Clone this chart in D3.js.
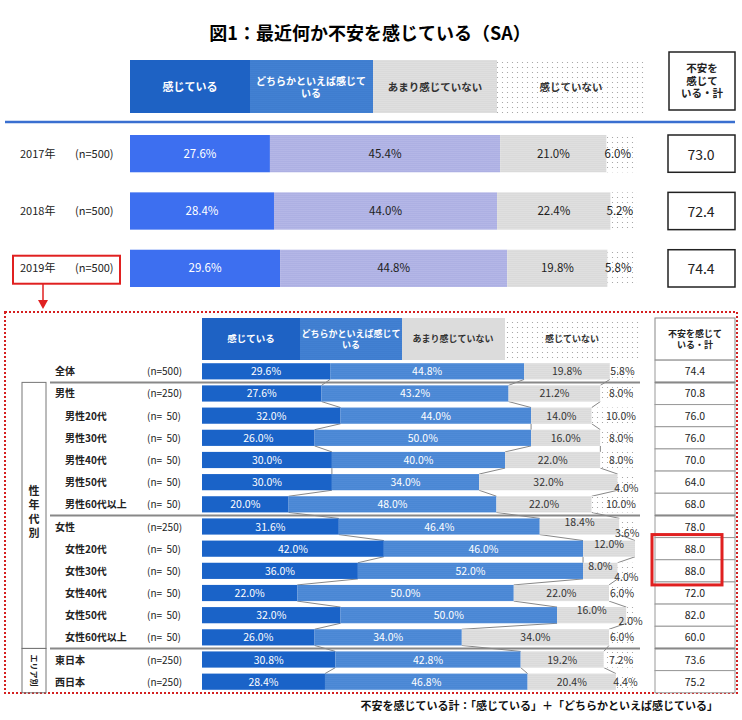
<!DOCTYPE html>
<html><head><meta charset="utf-8">
<script src="https://cdn.jsdelivr.net/npm/d3@7"></script>
<style>body{margin:0;background:#fff}text{font-family:"Noto Sans CJK JP",sans-serif}</style>
</head><body><svg id="c" width="742" height="720"></svg>
<script>
const seriesNames=["感じている","どちらかといえば感じている","あまり感じていない","感じていない"];
const totalHeader="不安を感じている・計";
const topYears=["2017年","2018年","2019年"];
const topN=["(n=500)","(n=500)","(n=500)"];
const topS1=[27.6,28.4,29.6];
const topS2=[45.4,44.0,44.8];
const topS3=[21.0,22.4,19.8];
const topS4=[6.0,5.2,5.8];
const topTotals=["73.0","72.4","74.4"];

const botLabels=["全体","男性","男性20代","男性30代","男性40代","男性50代","男性60代以上","女性","女性20代","女性30代","女性40代","女性50代","女性60代以上","東日本","西日本"];
const botN=["(n=500)","(n=250)","(n=  50)","(n=  50)","(n=  50)","(n=  50)","(n=  50)","(n=250)","(n=  50)","(n=  50)","(n=  50)","(n=  50)","(n=  50)","(n=250)","(n=250)"];
const botS1=[29.6,27.6,32.0,26.0,30.0,30.0,20.0,31.6,42.0,36.0,22.0,32.0,26.0,30.8,28.4];
const botS2=[44.8,43.2,44.0,50.0,40.0,34.0,48.0,46.4,46.0,52.0,50.0,50.0,34.0,42.8,46.8];
const botS3=[19.8,21.2,14.0,16.0,22.0,32.0,22.0,18.4,12.0,8.0,22.0,16.0,34.0,19.2,20.4];
const botS4=[5.8,8.0,10.0,8.0,8.0,4.0,10.0,3.6,0,4.0,6.0,2.0,6.0,7.2,4.4];
const botTotals=["74.4","70.8","76.0","76.0","70.0","64.0","68.0","78.0","88.0","88.0","72.0","82.0","60.0","73.6","75.2"];

const svg=d3.select("#c");
const defs=svg.append("defs");
function pat(id,bg,dot,step,r){
  const p=defs.append("pattern").attr("id",id).attr("width",step).attr("height",step).attr("patternUnits","userSpaceOnUse");
  p.append("rect").attr("width",step).attr("height",step).attr("fill",bg);
  p.append("circle").attr("cx",step/2).attr("cy",step/2).attr("r",r).attr("fill",dot);
}
pat("pTop2","#c4c6ee","#6f74c8",2,0.6);
pat("pTop3","#ececec","#9a9a9a",2,0.5);
pat("pWhite","#ffffff","#9a9a9a",5,0.6);
pat("pBot2","#5a95de","#1f5fb8",2,0.6);
pat("pHead2","#4a88d8","#1f5fb8",2,0.6);

svg.append("text").attr("x",370).attr("y",40).attr("text-anchor","middle").attr("font-size",18).attr("font-weight","bold").text("図1：最近何か不安を感じている（SA）");

const hx=[130,250,373,497,645];
const headFills=["#1e62c4","url(#pHead2)","url(#pTop3)","url(#pWhite)"];
const headText=["#fff","#fff","#333","#333"];
for(let i=0;i<4;i++){
  svg.append("rect").attr("x",hx[i]).attr("y",60).attr("width",hx[i+1]-hx[i]).attr("height",53).attr("fill",headFills[i]);
}
function hlabel(x,yc,lines,col,fs){
  const t=svg.append("text").attr("text-anchor","middle").attr("font-size",fs).attr("font-weight","bold").attr("fill",col);
  lines.forEach((l,k)=>t.append("tspan").attr("x",x).attr("y",yc+(k-(lines.length-1)/2)*(fs+2)+fs*0.35).text(l));
}
hlabel(190,87,["感じている"],headText[0],11);
hlabel(311,87,["どちらかといえば感じて","いる"],headText[1],10);
hlabel(435,87,["あまり感じていない"],headText[2],10.5);
hlabel(571,87,["感じていない"],headText[3],10.5);
svg.append("rect").attr("x",669).attr("y",52).attr("width",66).attr("height",58).attr("fill","#fff").attr("stroke","#222").attr("stroke-width",1.5);
hlabel(702,81,["不安を","感じて","いる・計"],"#222",10.5);
svg.append("line").attr("x1",5).attr("x2",735).attr("y1",122).attr("y2",122).attr("stroke","#3a6fd0").attr("stroke-width",2.5);

const xT=d3.scaleLinear().domain([0,100]).range([130,637]);
const yT=d3.scaleBand().domain(topYears).range([135,287]).paddingInner(0.35);
const topFills=["#3d6ff0","url(#pTop2)","url(#pTop3)","url(#pWhite)"];
const topSeries=[topS1,topS2,topS3,topS4];
topYears.forEach((yr,i)=>{
  let acc=0;const y=yT(yr),h=yT.bandwidth();
  topSeries.forEach((s,k)=>{
    const v=s[i];
    svg.append("rect").attr("x",xT(acc)).attr("y",y).attr("width",xT(acc+v)-xT(acc)).attr("height",h).attr("fill",topFills[k]);
    const cx=k==3?xT(acc)+(xT(acc+v)-xT(acc))/2-4:(xT(acc)+xT(acc+v))/2;
    svg.append("text").attr("x",cx).attr("y",y+h/2+4).attr("text-anchor","middle").attr("font-size",11.5).attr("fill",k==0?"#fff":"#222").text(v.toFixed(1)+"%");
    acc+=v;
  });
  svg.append("text").attr("x",20).attr("y",y+h/2+4).attr("font-size",11).attr("fill","#222").text(yr);
  svg.append("text").attr("x",75).attr("y",y+h/2+4).attr("font-size",11).attr("fill","#222").text(topN[i]);
  svg.append("rect").attr("x",668).attr("y",y).attr("width",67).attr("height",h).attr("fill","#fff").attr("stroke","#222").attr("stroke-width",1.5);
  svg.append("text").attr("x",701).attr("y",y+h/2+6).attr("text-anchor","middle").attr("font-size",14).attr("fill","#222").text(topTotals[i]);
});
const y19=yT("2019年");
svg.append("rect").attr("x",13).attr("y",y19+6).attr("width",107).attr("height",28).attr("fill","none").attr("stroke","#e02020").attr("stroke-width",2);
svg.append("line").attr("x1",43).attr("x2",43).attr("y1",y19+34).attr("y2",302).attr("stroke","#e02020").attr("stroke-width",1.5);
svg.append("path").attr("d","M38,300 L48,300 L43,309 Z").attr("fill","#e02020");

svg.append("rect").attr("x",5).attr("y",312).attr("width",732).attr("height",381).attr("fill","none").attr("stroke","#d42020").attr("stroke-width",2).attr("stroke-dasharray","2,2");

const bx=[202,300,402,505,640];
const bHeadFills=["#1e62c4","url(#pHead2)","#dcdcdc","url(#pWhite)"];
for(let i=0;i<4;i++) svg.append("rect").attr("x",bx[i]).attr("y",318).attr("width",bx[i+1]-bx[i]).attr("height",42).attr("fill",bHeadFills[i]);
hlabel(251,339,["感じている"],"#fff",9.5);
hlabel(351,339,["どちらかといえば感じて","いる"],"#fff",9);
hlabel(453,339,["あまり感じていない"],"#333",9);
hlabel(572,339,["感じていない"],"#333",9);
svg.append("rect").attr("x",655).attr("y",318).attr("width",80).attr("height",42).attr("fill","#fff").attr("stroke","#888");
hlabel(695,339,["不安を感じて","いる・計"],"#222",9);

const xB=d3.scaleLinear().domain([0,100]).range([202,635]);
const yB=d3.scaleBand().domain(botLabels).range([361,692]).paddingInner(0.27).paddingOuter(0.1);
const botFills=["#1a63c8","url(#pBot2)","url(#pTop3)","url(#pWhite)"];
const botSeries=[botS1,botS2,botS3,botS4];
const bh=yB.bandwidth();
for(let i=0;i<botLabels.length-1;i++){
  let a=0,b=0;
  for(let k=0;k<3;k++){
    a+=botSeries[k][i];b+=botSeries[k][i+1];
    svg.append("line").attr("x1",xB(a)).attr("y1",yB(botLabels[i])+bh).attr("x2",xB(b)).attr("y2",yB(botLabels[i+1])).attr("stroke","#888").attr("stroke-width",1);
  }
}
botLabels.forEach((lab,i)=>{
  const y=yB(lab);let acc=0;
  const last=i==botLabels.length-1;
  const small=botS4[i]<5&&!last;
  botSeries.forEach((s,k)=>{
    const v=s[i];
    if(v>0){
      svg.append("rect").attr("x",xB(acc)).attr("y",y).attr("width",xB(acc+v)-xB(acc)).attr("height",bh).attr("fill",botFills[k]);
      let cx=(xB(acc)+xB(acc+v))/2, dy=0;
      if(k==3){cx=Math.max(cx,621);if(small)dy=6;}
      if(k==2&&small&&v<20){dy=-5;}
      svg.append("text").attr("x",cx).attr("y",y+bh/2+4+dy).attr("text-anchor","middle").attr("font-size",10.5).attr("fill",k<2?"#fff":"#333").text(v.toFixed(1)+"%");
    }
    acc+=v;
  });
  const indent=(lab=="全体"||lab=="男性"||lab=="女性"||lab.endsWith("日本"))?55:65;
  svg.append("text").attr("x",indent).attr("y",y+bh/2+4).attr("font-size",10).attr("font-weight","bold").attr("fill","#222").text(lab);
  svg.append("text").attr("x",147).attr("y",y+bh/2+4).attr("font-size",10).attr("fill","#222").attr("xml:space","preserve").text(botN[i]);
  svg.append("rect").attr("x",655).attr("y",y-3).attr("width",80).attr("height",bh+6).attr("fill","#fff").attr("stroke","#999").attr("stroke-width",1);
  svg.append("text").attr("x",695).attr("y",y+bh/2+4).attr("text-anchor","middle").attr("font-size",10.5).attr("fill","#222").text(botTotals[i]);
});
[["全体","男性"],["女性60代以上","東日本"],["男性60代以上","女性"]].forEach(([a,b])=>{
  const yy=(yB(a)+bh+yB(b))/2;
  svg.append("line").attr("x1",50).attr("x2",640).attr("y1",yy).attr("y2",yy).attr("stroke","#888").attr("stroke-width",2);
  svg.append("line").attr("x1",655).attr("x2",735).attr("y1",yy).attr("y2",yy).attr("stroke","#888").attr("stroke-width",2);
});
const g1t=yB("男性")-3,g1b=yB("女性60代以上")+bh+3,g2t=yB("東日本")-3,g2b=yB("西日本")+bh+3;
svg.append("rect").attr("x",22).attr("y",g1t).attr("width",24).attr("height",g1b-g1t).attr("fill","none").attr("stroke","#777");
svg.append("rect").attr("x",22).attr("y",g2t).attr("width",24).attr("height",g2b-g2t).attr("fill","none").attr("stroke","#777");
const gt=svg.append("text").attr("text-anchor","middle").attr("font-size",11).attr("font-weight","bold").attr("fill","#222");
["性","年","代","別"].forEach((c,k)=>gt.append("tspan").attr("x",34).attr("y",(g1t+g1b)/2-20+k*14).text(c));
svg.append("text").attr("x",(g2t+g2b)/2).attr("y",-31).attr("transform","rotate(90)").attr("text-anchor","middle").attr("font-size",8).attr("font-weight","bold").attr("fill","#222").text("エリア別");
svg.append("rect").attr("x",652).attr("y",yB("女性20代")-6).attr("width",70).attr("height",yB("女性30代")+bh+12-yB("女性20代")).attr("fill","none").attr("stroke","#e02020").attr("stroke-width",3);
svg.append("text").attr("x",718).attr("y",710).attr("text-anchor","end").attr("font-size",11).attr("font-weight","bold").attr("fill","#111").text("不安を感じている計：「感じている」＋「どちらかといえば感じている」");
</script></body></html>
